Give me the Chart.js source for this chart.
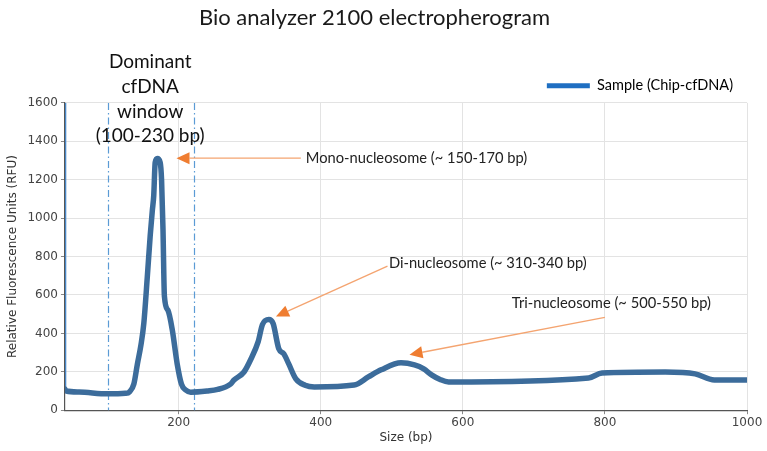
<!DOCTYPE html>
<html>
<head>
<meta charset="utf-8">
<script src="https://cdn.jsdelivr.net/npm/chart.js@4"></script>
<style>
  html, body { margin: 0; padding: 0; background: #fff; }
  #wrap { width: 767px; height: 451px; }
</style>
</head>
<body>
<div id="wrap"><canvas id="myChart" width="767" height="451"></canvas></div>
<script>
// fragment size (bp) and fluorescence (RFU)
var sizes = [40, 42, 60, 100, 125, 131, 137, 142, 147, 151, 156, 160, 163, 165, 167, 170, 174, 176, 178, 180,
  185, 191, 198, 204, 210, 217, 240, 255, 273, 278, 292, 302, 312, 318, 327, 333, 341, 348, 355, 365,
  378, 391, 447, 467, 485, 513, 532, 545, 556, 568, 580, 777, 796, 885, 927, 954, 1000];
var rfu = [110, 100, 95, 85, 88, 96, 136, 241, 340, 451, 698, 908, 1040, 1118, 1290, 1310, 1290, 1200, 944, 593,
  520, 420, 241, 136, 105, 94, 100, 108, 136, 157, 199, 268, 357, 446, 472, 451, 320, 294, 241, 163,
  130, 121, 131, 173, 210, 247, 236, 215, 184, 160, 147, 168, 194, 199, 189, 157, 157];

// thin spike at the very start of the run
var spikeSizes = [41, 41];
var spikeRfu = [1600, 110];

var xTicks = [200, 400, 600, 800, 1000];
var windowLines = [101, 221];   // dash-dot window edges (bp)

// annotation arrows: text anchor, arrow tail, arrow tip (bp, RFU)
var notes = [
  { text: "Mono-nucleosome (~ 150-170 bp)", tx: 379, ty: 1312, x0: 372, y0: 1312, x1: 197, y1: 1312 },
  { text: "Di-nucleosome (~ 310-340 bp)", tx: 496, ty: 766, x0: 494, y0: 750, x1: 337, y1: 488 },
  { text: "Tri-nucleosome (~ 500-550 bp)", tx: 669, ty: 556, x0: 800, y0: 483, x1: 525, y1: 289 }
];
var windowText = ["Dominant", "cfDNA", "window", "(100-230 bp)"];

var points = [];
for (var i = 0; i < sizes.length; i++) {
    points.push({ x: sizes[i], y: rfu[i] });
}
var spike = [];
for (var j = 0; j < spikeSizes.length; j++) {
    spike.push({ x: spikeSizes[j], y: spikeRfu[j] });
}

var annotate = {
    id: "annotate",
    beforeDatasetsDraw: function(chart) {
        var c = chart.ctx, xs = chart.scales.x, a = chart.chartArea;
        c.save();
        // window edges
        c.strokeStyle = "#5b9bd5";
        c.lineWidth = 1.2;
        c.setLineDash([7, 3, 1.5, 3]);
        windowLines.forEach(function(v) {
            var px = Math.round(xs.getPixelForValue(v)) + 0.5;
            c.beginPath();
            c.moveTo(px, a.top);
            c.lineTo(px, a.bottom);
            c.stroke();
        });
        c.setLineDash([]);
        c.restore();
    },
    afterDraw: function(chart) {
        var c = chart.ctx, xs = chart.scales.x, ys = chart.scales.y, a = chart.chartArea;
        c.save();
        notes.forEach(function(n) {
            var x0 = xs.getPixelForValue(n.x0), y0 = ys.getPixelForValue(n.y0);
            var x1 = xs.getPixelForValue(n.x1), y1 = ys.getPixelForValue(n.y1);
            var ang = Math.atan2(y1 - y0, x1 - x0);
            var hl = 13, hw = 6;
            var bx = x1 - hl * Math.cos(ang), by = y1 - hl * Math.sin(ang);
            c.strokeStyle = "#f4a470";
            c.lineWidth = 1.3;
            c.beginPath();
            c.moveTo(x0, y0);
            c.lineTo(bx, by);
            c.stroke();
            c.fillStyle = "#ef7d31";
            c.beginPath();
            c.moveTo(x1, y1);
            c.lineTo(bx + hw * Math.sin(ang), by - hw * Math.cos(ang));
            c.lineTo(bx - hw * Math.sin(ang), by + hw * Math.cos(ang));
            c.closePath();
            c.fill();
            c.fillStyle = "#222";
            c.font = "14.7px Lato";
            c.textAlign = "left";
            c.textBaseline = "middle";
            c.fillText(n.text, xs.getPixelForValue(n.tx), ys.getPixelForValue(n.ty));
        });
        // label over the window
        c.fillStyle = "#111";
        c.font = "19px Lato";
        c.textAlign = "center";
        c.textBaseline = "middle";
        var cx = xs.getPixelForValue(160);
        windowText.forEach(function(t, k) {
            c.fillText(t, cx, a.top - 41 + k * 24.8);
        });
        c.restore();
    }
};

var ctx = document.getElementById("myChart").getContext("2d");
var chart = new Chart(ctx, {
    type: "line",
    data: {
        datasets: [{
            label: "Sample (Chip-cfDNA)",
            data: points,
            borderColor: "#3c6c9b",
            backgroundColor: "#3c6c9b",
            borderWidth: 5.5,
            pointRadius: 0,
            cubicInterpolationMode: "monotone",
            borderJoinStyle: "round",
            borderCapStyle: "round"
        }, {
            label: "spike",
            data: spike,
            borderColor: "#4a88c8",
            borderWidth: 1.3,
            pointRadius: 0
        }]
    },
    options: {
        responsive: false,
        animation: false,
        layout: { padding: { left: 2, right: 20, top: 4, bottom: 2 } },
        plugins: {
            title: {
                display: true,
                text: "Bio analyzer 2100 electropherogram",
                color: "#1a1a1a",
                font: { family: "Lato", size: 22, weight: "normal" },
                padding: { top: 1, bottom: 33 }
            },
            legend: {
                display: true,
                align: "end",
                labels: {
                    color: "#222",
                    font: { family: "Lato", size: 14.5 },
                    boxWidth: 43,
                    boxHeight: 5,
                    padding: 14,
                    generateLabels: function(chart) {
                        return [{ text: "Sample (Chip-cfDNA)", fillStyle: "#1f6fc2", strokeStyle: "#1f6fc2", lineWidth: 0, datasetIndex: 0 }];
                    }
                }
            },
            tooltip: { enabled: false }
        },
        scales: {
            x: {
                type: "linear",
                min: 40,
                max: 1000,
                afterBuildTicks: function(axis) {
                    axis.ticks = xTicks.map(function(v) { return { value: v }; });
                },
                grid: { color: "#e3e3e3", tickLength: 4, tickColor: "#888" },
                border: { color: "#555", width: 1.2 },
                ticks: {
                    color: "#444", font: { family: "DejaVu Sans", size: 12 }, maxRotation: 0, padding: 1,
                    callback: function(v) { return String(v); }
                },
                title: { display: true, text: "Size (bp)", color: "#333", font: { family: "DejaVu Sans", size: 12 }, padding: { top: 0 } }
            },
            y: {
                min: 0,
                max: 1600,
                ticks: {
                    stepSize: 200, color: "#444", font: { family: "DejaVu Sans", size: 12 }, padding: 3,
                    callback: function(v) { return String(v); }
                },
                grid: { color: "#e3e3e3", tickLength: 4, tickColor: "#888" },
                border: { color: "#555", width: 1.2 },
                title: { display: true, text: "Relative Fluorescence Units (RFU)", color: "#333", font: { family: "DejaVu Sans", size: 12 }, padding: { bottom: 4 } }
            }
        }
    },
    plugins: [annotate]
});
</script>
</body>
</html>
